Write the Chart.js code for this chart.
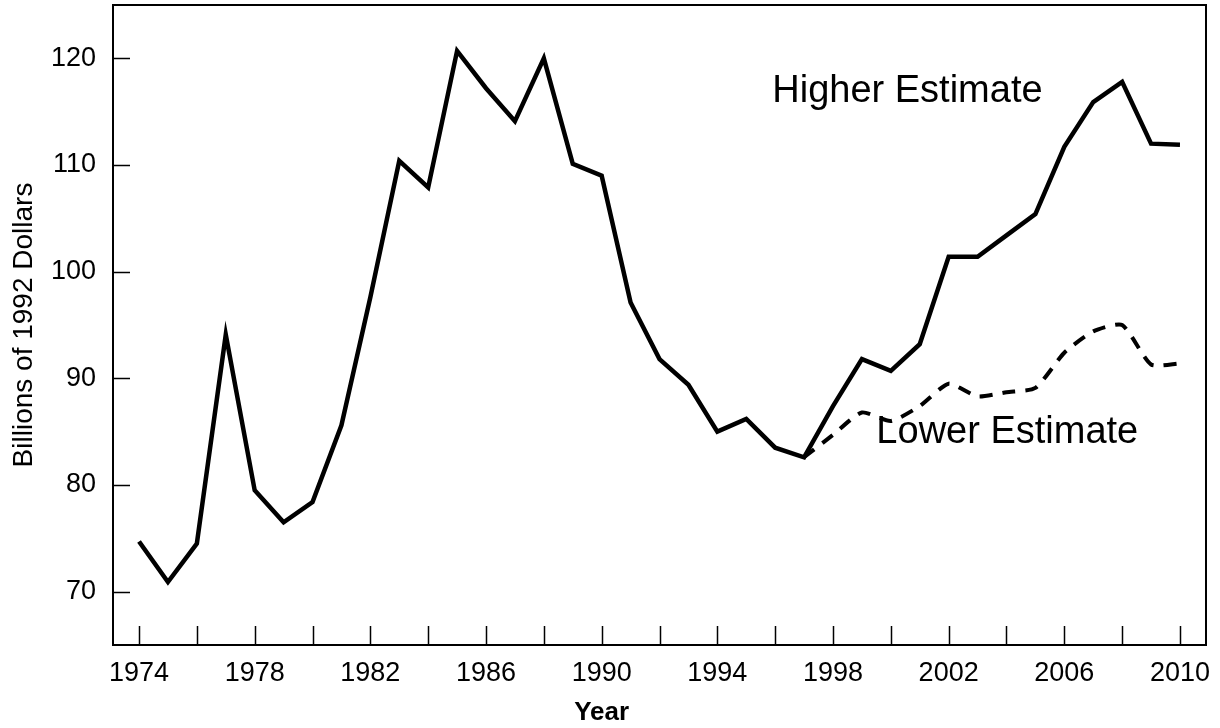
<!DOCTYPE html>
<html lang="en">
<head>
  <meta charset="UTF-8">
  <title>Billions of 1992 Dollars</title>
  <script src="https://cdn.jsdelivr.net/npm/chart.js"></script>
  <style>
    html, body { margin: 0; padding: 0; background: #fff; }
    canvas { display: block; }
  </style>
</head>
<body>
  <canvas id="chart" width="1220" height="728"></canvas>

  <script>
    // values
    const years = [1974, 1975, 1976, 1977, 1978, 1979, 1980, 1981, 1982, 1983,
      1984, 1985, 1986, 1987, 1988, 1989, 1990, 1991, 1992, 1993,
      1994, 1995, 1996, 1997, 1998, 1999, 2000, 2001, 2002, 2003,
      2004, 2005, 2006, 2007, 2008, 2009, 2010];
    const higher = [74.7, 70.9, 74.5, 94.1, 79.5, 76.5, 78.4, 85.6, 97.6, 110.4,
      107.9, 120.7, 117.2, 114.1, 120.0, 110.1, 109.0, 97.1, 91.8, 89.4,
      85.0, 86.2, 83.5, 82.6, 87.4, 91.8, 90.7, 93.2, 101.4, 101.4,
      103.4, 105.4, 111.7, 115.9, 117.8, 112.0, 111.9];
    const lowerYears = [1997, 1998, 1999, 2000, 2001, 2002, 2003, 2004, 2005, 2006, 2007, 2008, 2009, 2010];
    const lower = [82.6, 84.7, 86.8, 86.0, 87.4, 89.5, 88.3, 88.7, 89.1, 92.4, 94.4, 95.0, 91.3, 91.4];
    const yTicks = [70, 80, 90, 100, 110, 120];
    const xTicks = [1974, 1976, 1978, 1980, 1982, 1984, 1986, 1988, 1990, 1992,
      1994, 1996, 1998, 2000, 2002, 2004, 2006, 2008, 2010];

    const FONT = "'Liberation Sans', Arial, sans-serif";

    // frame, inward tick marks and the text labels
    const decor = {
      id: 'decor',
      afterDraw(chart) {
        const ctx = chart.ctx;
        const a = chart.chartArea;
        const x = chart.scales.x, y = chart.scales.y;
        ctx.save();
        ctx.strokeStyle = '#000';
        ctx.lineWidth = 2;
        ctx.strokeRect(a.left, a.top, a.right - a.left, a.bottom - a.top);
        ctx.lineWidth = 1.5;
        ctx.beginPath();
        xTicks.forEach(v => {
          const px = Math.round(x.getPixelForValue(v)) + 0.5;
          ctx.moveTo(px, a.bottom);
          ctx.lineTo(px, a.bottom - 19);
        });
        yTicks.forEach(v => {
          const py = Math.round(y.getPixelForValue(v)) + 0.5;
          ctx.moveTo(a.left, py);
          ctx.lineTo(a.left + 17, py);
        });
        ctx.stroke();

        ctx.fillStyle = '#000';
        ctx.font = '38px ' + FONT;
        ctx.textAlign = 'left';
        ctx.textBaseline = 'middle';
        ctx.fillText('Higher Estimate', x.getPixelForValue(1995.9), y.getPixelForValue(116.9));
        ctx.fillText('Lower Estimate', x.getPixelForValue(1999.5), y.getPixelForValue(84.9));

        ctx.font = 'bold 26px ' + FONT;
        ctx.textAlign = 'center';
        ctx.fillText('Year', x.getPixelForValue(1990), 713);

        ctx.font = '28px ' + FONT;
        ctx.translate(24, (a.top + a.bottom) / 2);
        ctx.rotate(-Math.PI / 2);
        ctx.fillText('Billions of 1992 Dollars', 0, 0);
        ctx.restore();
      }
    };

    new Chart(document.getElementById('chart'), {
      type: 'line',
      data: {
        datasets: [
          {
            label: 'Higher Estimate',
            data: years.map((yr, i) => ({ x: yr, y: higher[i] })),
            borderColor: '#000',
            borderWidth: 4.5,
            pointRadius: 0,
            tension: 0,
            borderJoinStyle: 'miter'
          },
          {
            label: 'Lower Estimate',
            data: lowerYears.map((yr, i) => ({ x: yr, y: lower[i] })),
            borderColor: '#000',
            borderWidth: 4,
            borderDash: [13, 10],
            pointRadius: 0,
            tension: 0.2
          }
        ]
      },
      options: {
        responsive: false,
        animation: false,
        layout: { padding: { top: 5, right: 14, left: 0, bottom: 0 } },
        plugins: { legend: { display: false }, tooltip: { enabled: false } },
        scales: {
          x: {
            type: 'linear',
            min: 1973.1,
            max: 2010.9,
            grid: { display: false, drawTicks: false },
            border: { display: false },
            afterBuildTicks: s => { s.ticks = xTicks.map(v => ({ value: v })); },
            afterFit: s => { s.height = 83; s.paddingLeft = 0; s.paddingRight = 0; },
            ticks: {
              autoSkip: false,
              maxRotation: 0,
              padding: 12,
              color: '#000',
              font: { family: FONT, size: 27 },
              callback: v => ((v - 1974) % 4 === 0 ? String(v) : '')
            }
          },
          y: {
            min: 65,
            max: 125,
            grid: { display: false, drawTicks: false },
            border: { display: false },
            afterBuildTicks: s => { s.ticks = yTicks.map(v => ({ value: v })); },
            afterFit: s => { s.width = 113; s.paddingTop = 0; s.paddingBottom = 0; },
            ticks: {
              padding: 17,
              color: '#000',
              font: { family: FONT, size: 27 }
            }
          }
        }
      },
      plugins: [decor]
    });
  </script>
</body>
</html>
